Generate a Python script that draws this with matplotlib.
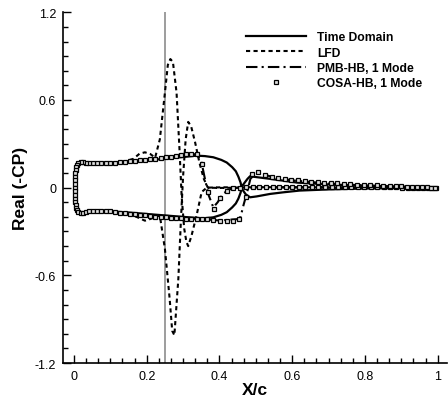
import matplotlib.pyplot as plt
import numpy as np
from matplotlib.ticker import MultipleLocator

# ---- data ----
# Time domain, upper surface (LE -> TE) and lower surface (LE -> TE)
td_up_x = [0.003, 0.003, 0.005, 0.01, 0.02, 0.04, 0.07, 0.1, 0.15, 0.2, 0.25, 0.3, 0.337, 0.36,
           0.383, 0.405, 0.42, 0.435, 0.445, 0.452, 0.458, 0.461, 0.465, 0.472, 0.484, 0.502,
           0.539, 0.575, 0.62, 0.7, 0.8, 0.9, 1.0]
td_up_y = [0.0, 0.09, 0.145, 0.168, 0.175, 0.17, 0.166, 0.166, 0.174, 0.186, 0.198, 0.21, 0.219,
           0.216, 0.208, 0.19, 0.172, 0.14, 0.112, 0.075, 0.035, 0.0, -0.02, -0.045, -0.066,
           -0.06, -0.043, -0.032, -0.02, -0.012, -0.006, -0.003, 0.0]
td_lo_x = [0.003, 0.003, 0.005, 0.01, 0.02, 0.04, 0.07, 0.1, 0.15, 0.2, 0.25, 0.3, 0.356, 0.383,
           0.405, 0.42, 0.435, 0.445, 0.452, 0.458, 0.461, 0.465, 0.47, 0.477, 0.484, 0.502,
           0.54, 0.575, 0.612, 0.7, 0.795, 0.9, 1.0]
td_lo_y = [0.0, -0.09, -0.145, -0.165, -0.172, -0.166, -0.16, -0.162, -0.17, -0.18, -0.19, -0.2,
           -0.21, -0.203, -0.186, -0.168, -0.135, -0.108, -0.075, -0.035, 0.0, 0.02, 0.037,
           0.06, 0.078, 0.072, 0.06, 0.048, 0.035, 0.022, 0.014, 0.007, 0.0]

# LFD
lfd_up_x = [0.003, 0.003, 0.005, 0.01, 0.02, 0.05, 0.1, 0.14, 0.163, 0.18, 0.195, 0.21, 0.223,
            0.236, 0.25, 0.258, 0.265, 0.272, 0.282, 0.29, 0.296, 0.303, 0.309, 0.314, 0.323,
            0.337, 0.351, 0.365, 0.4, 0.45, 0.5, 0.6, 0.7, 0.8, 0.9, 1.0]
lfd_up_y = [0.0, 0.09, 0.145, 0.168, 0.176, 0.17, 0.168, 0.18, 0.197, 0.232, 0.242, 0.23, 0.205,
            0.33, 0.65, 0.84, 0.88, 0.86, 0.65, 0.265, -0.06, -0.28, -0.37, -0.4, -0.33,
            -0.19, -0.03, 0.0, 0.002, 0.003, 0.003, 0.003, 0.002, 0.001, 0.0, 0.0]
lfd_lo_x = [0.003, 0.003, 0.005, 0.01, 0.02, 0.05, 0.1, 0.14, 0.172, 0.195, 0.209, 0.225, 0.236,
            0.25, 0.263, 0.27, 0.276, 0.287, 0.294, 0.3, 0.307, 0.314, 0.322, 0.333, 0.345,
            0.357, 0.368, 0.4, 0.45, 0.5, 0.6, 0.7, 0.8, 0.9, 1.0]
lfd_lo_y = [0.0, -0.09, -0.145, -0.165, -0.172, -0.165, -0.162, -0.172, -0.2, -0.226, -0.215,
            -0.2, -0.19, -0.42, -0.76, -0.98, -1.01, -0.62, -0.22, 0.08, 0.33, 0.45, 0.42, 0.31,
            0.17, 0.06, 0.0, -0.002, 0.0, 0.002, 0.002, 0.001, 0.001, 0.0, 0.0]

# PMB-HB, 1 Mode
pmb_up_x = [0.003, 0.003, 0.005, 0.01, 0.02, 0.05, 0.1, 0.15, 0.2, 0.25, 0.3, 0.337, 0.35, 0.36,
            0.37, 0.383, 0.395, 0.41, 0.43, 0.45, 0.5, 0.6, 0.7, 0.8, 0.9, 1.0]
pmb_up_y = [0.0, 0.09, 0.145, 0.17, 0.176, 0.17, 0.172, 0.178, 0.19, 0.208, 0.222, 0.23, 0.18,
            0.06, -0.05, -0.135, -0.1, -0.04, -0.01, 0.0, 0.003, 0.003, 0.002, 0.001, 0.0, 0.0]
pmb_lo_x = [0.003, 0.003, 0.005, 0.01, 0.02, 0.05, 0.1, 0.15, 0.2, 0.25, 0.3, 0.35, 0.4, 0.45,
            0.458, 0.466, 0.475, 0.485, 0.5, 0.525, 0.55, 0.6, 0.7, 0.8, 0.9, 1.0]
pmb_lo_y = [0.0, -0.09, -0.145, -0.166, -0.172, -0.16, -0.164, -0.175, -0.187, -0.198, -0.21,
            -0.214, -0.225, -0.215, -0.2, -0.12, -0.04, 0.06, 0.1, 0.088, 0.07, 0.05, 0.028,
            0.015, 0.006, 0.0]

# COSA-HB, 1 Mode (discrete markers)
cosa_up_x = [0.003, 0.003, 0.003, 0.004, 0.004, 0.005, 0.006, 0.008, 0.012, 0.018, 0.025,
             0.033, 0.042, 0.052, 0.063, 0.075, 0.087, 0.1, 0.113, 0.126, 0.14, 0.154, 0.168,
             0.182, 0.196, 0.21, 0.224, 0.238, 0.252, 0.266, 0.28, 0.294, 0.308, 0.322, 0.337,
             0.353, 0.368, 0.386, 0.401, 0.42, 0.438, 0.456, 0.474, 0.492, 0.51, 0.528, 0.546,
             0.564, 0.582, 0.6, 0.618, 0.636, 0.654, 0.672, 0.69, 0.708, 0.726, 0.744, 0.762,
             0.78, 0.798, 0.816, 0.834, 0.852, 0.87, 0.886, 0.902, 0.918, 0.932, 0.946, 0.96,
             0.972, 0.984, 0.995]
cosa_up_y = [0.0, 0.025, 0.05, 0.075, 0.1, 0.12, 0.14, 0.158, 0.17, 0.175, 0.174, 0.172, 0.17,
             0.169, 0.168, 0.168, 0.169, 0.17, 0.172, 0.174, 0.177, 0.18, 0.183, 0.186, 0.19,
             0.194, 0.198, 0.202, 0.207, 0.212, 0.217, 0.222, 0.227, 0.232, 0.23, 0.162,
             -0.03, -0.146, -0.073, -0.02, -0.004, 0.0, 0.003, 0.003, 0.003, 0.003, 0.003,
             0.003, 0.003, 0.003, 0.003, 0.003, 0.003, 0.003, 0.003, 0.003, 0.003, 0.003,
             0.003, 0.003, 0.002, 0.002, 0.002, 0.002, 0.002, 0.002, 0.001, 0.001, 0.001,
             0.001, 0.001, 0.0, 0.0, 0.0]
cosa_lo_x = [0.003, 0.003, 0.004, 0.004, 0.005, 0.006, 0.008, 0.012, 0.018, 0.025, 0.033,
             0.042, 0.052, 0.063, 0.075, 0.087, 0.1, 0.113, 0.126, 0.14, 0.154, 0.168, 0.182,
             0.196, 0.21, 0.224, 0.238, 0.252, 0.266, 0.28, 0.294, 0.308, 0.322, 0.337, 0.352,
             0.367, 0.383, 0.401, 0.42, 0.438, 0.454, 0.473, 0.489, 0.507, 0.525, 0.544,
             0.562, 0.58, 0.598, 0.616, 0.634, 0.652, 0.67, 0.688, 0.706, 0.724, 0.742, 0.76,
             0.778, 0.796, 0.814, 0.832, 0.85, 0.868, 0.884, 0.9, 0.916, 0.93, 0.944, 0.958,
             0.97, 0.982, 0.993]
cosa_lo_y = [-0.025, -0.05, -0.075, -0.1, -0.12, -0.14, -0.156, -0.168, -0.173, -0.172, -0.168,
             -0.163, -0.16, -0.158, -0.158, -0.16, -0.163, -0.166, -0.17, -0.174, -0.178,
             -0.182, -0.186, -0.19, -0.194, -0.198, -0.201, -0.204, -0.207, -0.209, -0.211,
             -0.212, -0.213, -0.214, -0.215, -0.216, -0.218, -0.226, -0.229, -0.226, -0.215,
             -0.066, 0.094, 0.105, 0.087, 0.071, 0.064, 0.058, 0.053, 0.049, 0.045, 0.041,
             0.038, 0.035, 0.032, 0.029, 0.026, 0.024, 0.021, 0.019, 0.017, 0.015, 0.013,
             0.011, 0.009, 0.008, 0.006, 0.005, 0.004, 0.003, 0.002, 0.001, 0.0]

x_ticks = [0, 0.2, 0.4, 0.6, 0.8, 1.0]
x_labels = ['0', '0.2', '0.4', '0.6', '0.8', '1']
y_ticks = [-1.2, -0.6, 0, 0.6, 1.2]
y_labels = ['-1.2', '-0.6', '0', '0.6', '1.2']
x_ref = 0.25

plt.rcParams['font.family'] = ['Liberation Sans', 'DejaVu Sans']


def loop(ux, uy, lx, ly):
    # trace round the section: TE upper -> LE -> TE lower
    return ux[::-1] + lx, uy[::-1] + ly


fig = plt.figure(figsize=(4.48, 4.02), dpi=100)
ax = fig.add_axes([0.1413, 0.0945, 0.8565, 0.8724])

ax.axvline(x_ref, color='#8c8c8c', lw=1.2, zorder=1)

x, y = loop(td_up_x, td_up_y, td_lo_x, td_lo_y)
ax.plot(x, y, color='k', lw=1.6, label='Time Domain', zorder=3)
x, y = loop(lfd_up_x, lfd_up_y, lfd_lo_x, lfd_lo_y)
ax.plot(x, y, color='k', lw=1.5, ls=(0, (2.0, 1.6)), label='LFD', zorder=3)
x, y = loop(pmb_up_x, pmb_up_y, pmb_lo_x, pmb_lo_y)
ax.plot(x, y, color='k', lw=1.5, ls=(0, (5.5, 2, 1, 2)), label='PMB-HB, 1 Mode', zorder=3)
x, y = loop(cosa_up_x, cosa_up_y, cosa_lo_x, cosa_lo_y)
ax.plot(x, y, ls='none', marker='s', ms=3.5, mfc='#e0e0e0', mec='k', mew=0.9,
        label='COSA-HB, 1 Mode', zorder=4)

ax.set_xlim(-0.0294, 1.0256)
ax.set_ylim(-1.2, 1.2)
ax.set_xticks(x_ticks)
ax.set_xticklabels(x_labels)
ax.set_yticks(y_ticks)
ax.set_yticklabels(y_labels)
ax.xaxis.set_minor_locator(MultipleLocator(0.2 / 6))
ax.yaxis.set_minor_locator(MultipleLocator(0.1))
ax.tick_params(which='both', direction='in', labelsize=9, width=1.0, color='k')
ax.tick_params(which='major', length=6)
ax.tick_params(which='minor', length=3.5)
ax.tick_params(axis='y', pad=5)
ax.tick_params(axis='x', pad=5)

for s in ['top', 'right']:
    ax.spines[s].set_visible(False)
for s in ['left', 'bottom']:
    ax.spines[s].set_linewidth(1.2)

ax.set_xlabel('X/c', fontsize=12.5, fontweight='bold', labelpad=0)
ax.set_ylabel('Real (-CP)', fontsize=12.5, fontweight='bold', labelpad=5)

ax.legend(loc='upper left', bbox_to_anchor=(0.535, 0.935), bbox_transform=fig.transFigure,
          frameon=False, borderpad=0, handlelength=5.0, handletextpad=0.9, labelspacing=0.28,
          numpoints=1, prop={'size': 8.7, 'weight': 'bold'})

fig.savefig('out.png', dpi=100)
